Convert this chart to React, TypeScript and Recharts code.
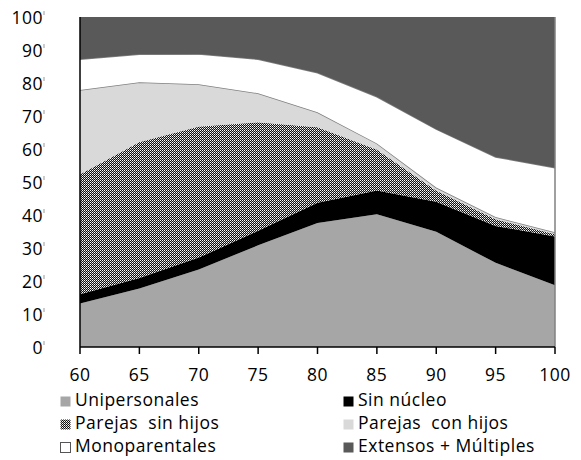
import { AreaChart, Area, XAxis, YAxis, ReferenceLine } from 'recharts';

const ages = ['60', '65', '70', '75', '80', '85', '90', '95', '100'];

const unipersonales = [13.2, 17.7, 23.5, 30.8, 37.6, 40.2, 34.9, 25.5, 18.7];
const sinNucleo = [2.8, 3.2, 3.6, 4.4, 6.1, 7.2, 9.1, 11.2, 14.8];
const parejasSinHijos = [36.4, 41.3, 39.8, 33.0, 23.0, 12.5, 3.5, 2.1, 0.8];
const parejasConHijos = [25.5, 18.0, 12.7, 8.7, 4.4, 1.8, 0.8, 0.6, 0.5];
const monoparentales = [9.3, 8.5, 9.2, 10.3, 12.0, 14.1, 17.7, 18.2, 19.5];
const extensos = [12.8, 11.3, 11.2, 12.8, 16.9, 24.2, 34.0, 42.4, 45.7];

const yTicks = [0, 10, 20, 30, 40, 50, 60, 70, 80, 90, 100];

const data = ages.map((age, i) => ({
  age,
  uni: unipersonales[i],
  sin: sinNucleo[i],
  psh: parejasSinHijos[i],
  pch: parejasConHijos[i],
  mono: monoparentales[i],
  ext: extensos[i],
}));

const FONT = '"Open Sans", sans-serif';
const FONT_SIZE = 17.5;

const legendItems = [
  { label: 'Unipersonales', fill: '#a6a6a6' },
  { label: 'Sin núcleo', fill: '#000000' },
  { label: 'Parejas  sin hijos', fill: 'url(#dotsLegend)' },
  { label: 'Parejas  con hijos', fill: '#d9d9d9' },
  { label: 'Monoparentales', fill: '#ffffff', border: true },
  { label: 'Extensos + Múltiples', fill: '#595959' },
];

// 4x4 speckle tile: light dots on a black grid, no diagonals
const speckle = [
  ['#fff', '#111', '#fff', '#111'],
  ['#111', '#b4b4b4', '#111', '#b4b4b4'],
  ['#fff', '#111', '#fff', '#111'],
  ['#111', '#b4b4b4', '#111', '#b4b4b4'],
];

function DotPattern({ id }: { id: string }) {
  return (
    <pattern id={id} width={4} height={4} patternUnits="userSpaceOnUse">
      {speckle.map((row, r) =>
        row.map((c, col) => <rect key={`${r}-${col}`} x={col} y={r} width={1} height={1} fill={c} />)
      )}
    </pattern>
  );
}

function YTick({ x, y, payload }: any) {
  return (
    <g>
      <text
        x={x - 29}
        y={y}
        textAnchor="end"
        dominantBaseline="central"
        fontSize={FONT_SIZE}
        fontFamily={FONT}
        letterSpacing={0.5}
        fill="#000"
      >
        {payload.value}
      </text>
      <line x1={x - 28} x2={x - 28} y1={y - 6} y2={y - 2} stroke="#999" strokeWidth={1} />
    </g>
  );
}

function ChartLegend() {
  return (
    <div
      style={{
        position: 'absolute',
        left: 60,
        top: 388,
        display: 'grid',
        gridTemplateColumns: '283px 230px',
        fontFamily: FONT,
        fontSize: FONT_SIZE,
        letterSpacing: 0.5,
        color: '#000',
      }}
    >
      {legendItems.map((item) => (
        <div key={item.label} style={{ display: 'flex', alignItems: 'flex-start', height: 23, lineHeight: '23px', whiteSpace: 'pre' }}>
          <svg width={11} height={11} style={{ marginTop: 8, marginRight: 4, flex: 'none' }}>
            <defs>
              <DotPattern id="dotsLegend" />
            </defs>
            <rect
              x={0.5}
              y={0.5}
              width={10}
              height={10}
              fill={item.fill}
              stroke={item.border ? '#555' : 'none'}
            />
          </svg>
          <span>{item.label}</span>
        </div>
      ))}
    </div>
  );
}

export default function App() {
  return (
    <div style={{ position: 'absolute', left: 0, top: 0, width: 581, height: 460, background: '#fff' }}>
      <AreaChart width={581} height={400} data={data} margin={{ top: 17, right: 26, bottom: 0, left: 0 }}>
        <defs>
          <DotPattern id="dots" />
        </defs>
        <XAxis
          dataKey="age"
          height={53}
          axisLine={{ stroke: '#000', strokeWidth: 1.5 }}
          tickLine={{ stroke: '#000', strokeWidth: 1.5 }}
          tickSize={7}
          tickMargin={15}
          tick={{ fill: '#000', fontSize: FONT_SIZE, fontFamily: FONT, letterSpacing: 0.5 }}
          interval={0}
        />
        <YAxis
          width={80}
          domain={[0, 100]}
          ticks={yTicks}
          allowDataOverflow
          axisLine={{ stroke: '#000', strokeWidth: 1.5 }}
          tickLine={false}
          tick={<YTick />}
          interval={0}
        />
        <Area type="linear" dataKey="uni" stackId="1" fill="#a6a6a6" fillOpacity={1} stroke="none" isAnimationActive={false} />
        <Area type="linear" dataKey="sin" stackId="1" fill="#000000" fillOpacity={1} stroke="none" isAnimationActive={false} />
        <Area type="linear" dataKey="psh" stackId="1" fill="url(#dots)" fillOpacity={1} stroke="#dddddd" strokeWidth={1} isAnimationActive={false} />
        <Area type="linear" dataKey="pch" stackId="1" fill="#d9d9d9" fillOpacity={1} stroke="#808080" strokeWidth={1.5} isAnimationActive={false} />
        <Area type="linear" dataKey="mono" stackId="1" fill="#ffffff" fillOpacity={1} stroke="#808080" strokeWidth={1.5} isAnimationActive={false} />
        <Area type="linear" dataKey="ext" stackId="1" fill="#595959" fillOpacity={1} stroke="none" isAnimationActive={false} />
        <ReferenceLine x="100" stroke="#808080" strokeWidth={1.5} />
      </AreaChart>
      <ChartLegend />
    </div>
  );
}
